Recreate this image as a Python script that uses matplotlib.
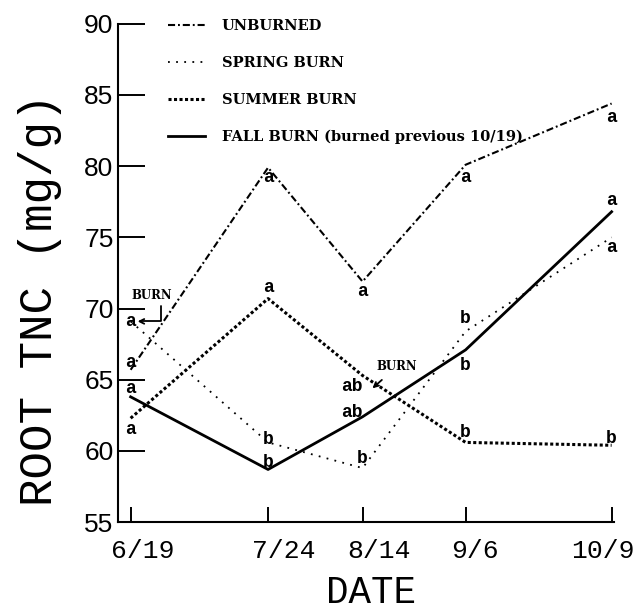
import matplotlib
matplotlib.use('Agg')
import matplotlib.pyplot as plt

# ─── Data ───
dates = ['6/19', '7/24', '8/14', '9/6', '10/9']
sample_x = [0, 32, 54, 78, 112]      # horizontal position of each sampling date, as drawn

unburned = [65.7, 79.9, 71.9, 80.1, 84.4]
spring   = [69.1, 60.6, 58.8, 68.4, 75.0]
summer   = [62.3, 70.7, 65.3, 60.6, 60.4]
fall     = [63.8, 58.7, 62.4, 67.1, 76.8]

# mean separation letters: (date index, y, letter)
letters = [
    (0, 69.1, 'a'), (0, 66.2, 'a'), (0, 64.4, 'a'), (0, 61.5, 'a'),
    (1, 79.2, 'a'), (1, 71.5, 'a'), (1, 60.8, 'b'), (1, 59.2, 'b'),
    (2, 71.2, 'a'), (2, 64.5, 'ab'), (2, 62.7, 'ab'), (2, 59.5, 'b'),
    (3, 79.2, 'a'), (3, 69.3, 'b'), (3, 66.0, 'b'), (3, 61.3, 'b'),
    (4, 83.4, 'a'), (4, 77.6, 'a'), (4, 74.3, 'a'), (4, 60.9, 'b'),
]

# ─── Figure ───
fig = plt.figure(figsize=(6.4, 6.1), dpi=100)
ax = fig.add_axes([0.184, 0.144, 0.775, 0.817])

ax.plot(sample_x, unburned, color='black', lw=1.5, ls=(0, (3.4, 1.4, 0.9, 1.4)), label='UNBURNED')
ax.plot(sample_x, spring, color='black', lw=1.3, ls=(0, (1, 3.5)), label='SPRING BURN')
ax.plot(sample_x, summer, color='black', lw=2.2, ls=(0, (1, 0.8)), label='SUMMER BURN')
ax.plot(sample_x, fall, color='black', lw=2.0, ls='-', label='FALL BURN (burned previous 10/19)')

for i, y, t in letters:
    ax.text(sample_x[i], y, t, ha='right' if t == 'ab' else 'center', va='center',
            fontsize=13, family='Liberation Mono', fontweight='bold')

burn_kw = dict(fontsize=8.5, family='DejaVu Serif', fontweight='bold', ha='center', va='center')
ax.annotate('BURN', xy=(1.6, 69.1), xytext=(5.0, 70.9),
            arrowprops=dict(arrowstyle='->', lw=1.3, color='black', shrinkA=1, shrinkB=0,
                            relpos=(0.72, 0.0),
                            connectionstyle='angle,angleA=90,angleB=0,rad=0'), **burn_kw)
ax.annotate('BURN', xy=(56.3, 64.4), xytext=(61.9, 65.9),
            arrowprops=dict(arrowstyle='->', lw=1.3, color='black', shrinkA=4, shrinkB=0), **burn_kw)

ax.set_xlim(-3.0, 112.5)
ax.set_ylim(55, 90)
ax.set_yticks(range(55, 91, 5))
ax.set_xticks(sample_x)
ax.set_xticklabels([])
# date labels sit a little right of their ticks in the original, the last one a bit left
shifts_pt = [9, 11, 12, 7, -6]
for xv, lab, dx in zip(sample_x, dates, shifts_pt):
    ax.annotate(lab, xy=(xv, 0), xycoords=ax.get_xaxis_transform(),
                xytext=(dx, -12), textcoords='offset points', ha='center', va='top',
                family='Liberation Mono', fontsize=19)
for lab in ax.get_yticklabels():
    lab.set_family('Liberation Sans')
    lab.set_fontsize(19)
ax.tick_params(axis='y', direction='in', length=19.5, width=1.4, pad=3)
ax.tick_params(axis='x', direction='in', length=11, width=1.4)
ax.spines['top'].set_visible(False)
ax.spines['right'].set_visible(False)
ax.spines['left'].set_linewidth(1.5)
ax.spines['bottom'].set_linewidth(1.5)

ax.legend(loc='upper left', bbox_to_anchor=(0.101, 1.010), frameon=False,
          prop=dict(family='DejaVu Serif', weight='bold', size=10.5),
          handlelength=2.53, handletextpad=1.15, labelspacing=1.58,
          borderpad=0, borderaxespad=0)

fig.text(0.0625, 0.508, 'ROOT TNC (mg/g)', rotation=90, ha='center', va='center',
         family='Liberation Mono', fontsize=33)
fig.text(0.58, 0.028, 'DATE', ha='center', va='center', family='Liberation Mono', fontsize=27)

fig.savefig('out.png', dpi=100)
